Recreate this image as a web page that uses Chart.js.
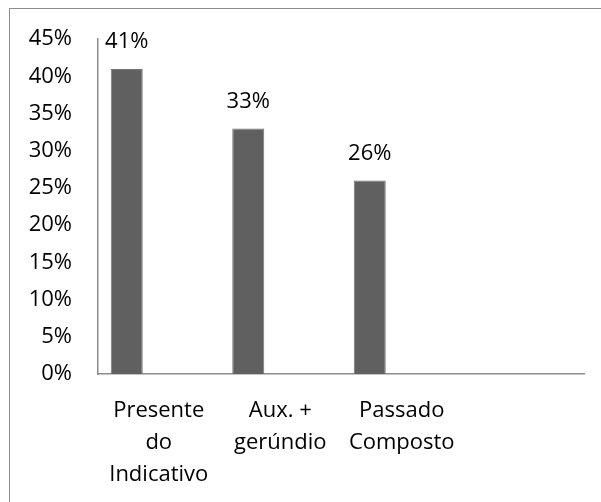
<!DOCTYPE html>
<html>
<head>
<meta charset="utf-8">
<script src="https://cdn.jsdelivr.net/npm/chart.js@4"></script>
<style>
  html, body { margin: 0; padding: 0; background: #fff; overflow: hidden; }
  #wrap { position: relative; width: 601px; height: 502px; }
  #frame { position: absolute; left: 9px; top: 8px; width: 700px; height: 600px; border: 1.5px solid #8c8c8c; }
  #myBarChart { position: absolute; left: 0; top: 0; }
</style>
</head>
<body>
<div id="wrap">
  <div id="frame"></div>
  <canvas id="myBarChart" width="601" height="502"></canvas>
</div>
<script>
  // categorias (a quarta fica vazia, como no original)
  var categories = [['Presente', 'do', 'Indicativo'], ['Aux. +', 'gerúndio'], ['Passado', 'Composto'], ''];
  var percentValues = [41, 33, 26, null];   // em %
  var emptySeries = [null, null, null, null];
  var yMax = 45;
  var yStep = 5;

  var fontFamily = '"Open Sans", "Noto Sans", sans-serif';

  // rótulos de valor acima das barras
  var valueLabels = {
    id: 'valueLabels',
    afterDatasetsDraw: function (chart) {
      var ctx = chart.ctx;
      var meta = chart.getDatasetMeta(0);
      ctx.save();
      ctx.font = '22px ' + fontFamily;
      ctx.fillStyle = '#000';
      ctx.textAlign = 'center';
      ctx.textBaseline = 'middle';
      meta.data.forEach(function (bar, i) {
        var v = percentValues[i];
        if (v === null) return;
        ctx.fillText(v + '%', bar.x, bar.y - 27);
      });
      ctx.restore();
    }
  };

  var data = {
    labels: categories,
    datasets: [
      { data: percentValues, backgroundColor: '#606060', borderColor: '#767676', borderWidth: 1 },
      { data: emptySeries, backgroundColor: '#606060' },
      { data: emptySeries, backgroundColor: '#606060' }
    ]
  };

  var options = {
    responsive: false,
    animation: false,
    layout: { padding: { left: 0, right: 17, top: 37, bottom: 0 } },
    plugins: { legend: { display: false }, tooltip: { enabled: false } },
    datasets: { bar: { categoryPercentage: 0.79, barPercentage: 1 } },
    scales: {
      x: {
        grid: { display: false, drawTicks: false },
        border: { display: true, color: '#8c8c8c', width: 1.5 },
        ticks: {
          color: '#000',
          padding: 21,
          maxRotation: 0,
          autoSkip: false,
          font: { family: fontFamily, size: 22, lineHeight: 1.45 }
        },
        afterFit: function (scale) { scale.height = 128; }
      },
      y: {
        min: 0,
        max: yMax,
        grid: { display: false, drawTicks: false },
        border: { display: true, color: '#8c8c8c', width: 1.5 },
        ticks: {
          stepSize: yStep,
          color: '#000',
          padding: 26,
          font: { family: fontFamily, size: 22 },
          callback: function (v) { return v + '%'; }
        },
        afterFit: function (scale) { scale.width = 98; }
      }
    }
  };

  var ctx = document.getElementById('myBarChart').getContext('2d');
  var myBarChart = new Chart(ctx, {
    type: 'bar',
    data: data,
    options: options,
    plugins: [valueLabels]
  });
</script>
</body>
</html>
